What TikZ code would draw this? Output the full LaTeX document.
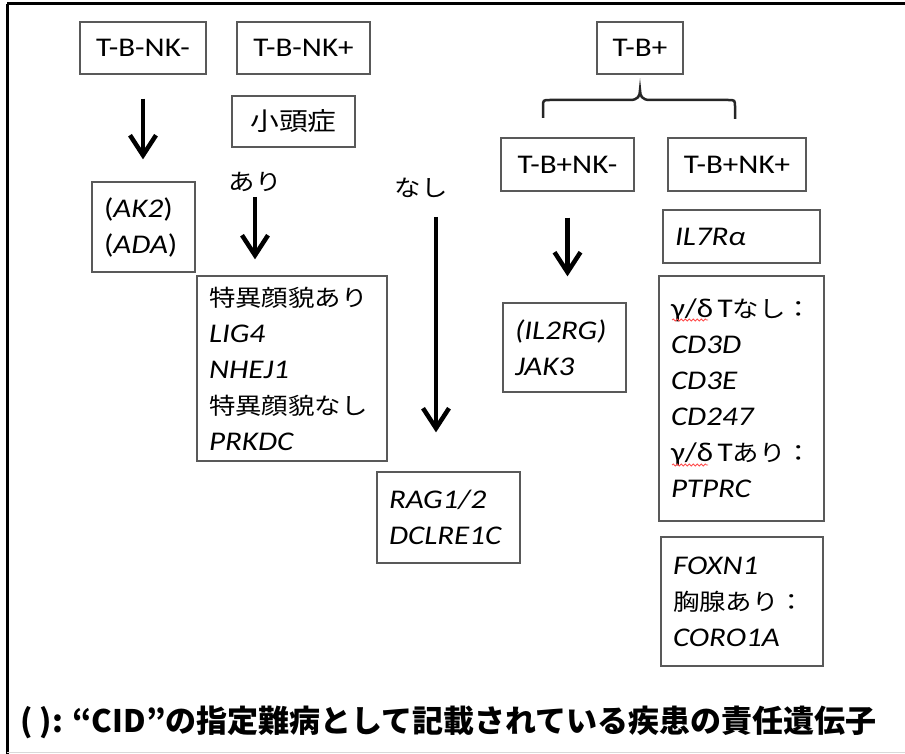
\documentclass[tikz,border=0pt]{standalone}
\usepackage{fontspec}
\setmainfont{Carlito}[FakeStretch=1.15]
\newfontfamily\jp{Noto Sans CJK JP}[FakeStretch=1.15]
\newfontfamily\jpfoot{Noto Sans CJK JP}
\usetikzlibrary{arrows.meta,decorations.pathmorphing}
\newcommand\J[1]{{\fontsize{23pt}{36pt}\selectfont\jp #1}}
\begin{document}
\begin{tikzpicture}[x=1pt,y=-1pt,
  box/.style={draw=black!65, line width=1.3pt, inner ysep=0pt, font=\fontsize{27pt}{36pt}\selectfont},
  lbox/.style={box, align=left, inner xsep=12pt},
  lab/.style={font=\fontsize{23pt}{28pt}\selectfont\jp, inner sep=1pt},
  arr/.style={line width=4.5pt, -{Straight Barb[length=20pt,width=26pt]}},
  brace/.style={line width=2.5pt, black!85},
  wavy/.style={red!70, line width=0.8pt, decorate, decoration={snake, amplitude=1pt, segment length=4pt}}
]
\useasboundingbox (0,0) rectangle (905,754);
% frame
\draw[line width=3pt] (7,4) -- (905,4);
\draw[line width=3pt] (7,4) -- (7,754);
\draw[black!15, line width=1.5pt] (7,752.5) -- (905,752.5);

% top row
\node[box, minimum width=126pt, minimum height=52pt] (tbnkm) at (143,48) {T-B-NK-};
\node[box, minimum width=133pt, minimum height=52pt] (tbnkp) at (303.5,48) {T-B-NK+};
\node[box, minimum width=86pt, minimum height=52pt] (tbp) at (640,48) {T-B+};

\node[box, minimum width=133pt, minimum height=53pt] (tbpnkm) at (567.5,164.5) {T-B+NK-};
\node[box, minimum width=138pt, minimum height=53pt] (tbpnkp) at (737,164.5) {T-B+NK+};

\node[box, minimum width=123pt, minimum height=51pt, font=\fontsize{25pt}{30pt}\selectfont\jp] (shoutou) at (293.5,121.5) {小頭症};

\node[lab] (ari) at (255,182) {あり};
\node[lab] (nashi) at (421,188) {なし};

% gene boxes
\node[lbox, text width=79pt, minimum height=90pt] (ak) at (143.5,227) {(\textit{AK2})\\(\textit{ADA})};
\node[lbox, text width=166pt, minimum height=185pt] (tokui) at (292,368.5)
  {\J{特異顔貌あり}\\\textit{LIG4}\\\textit{NHEJ1}\\\J{特異顔貌なし}\\\textit{PRKDC}};
\node[lbox, text width=119pt, minimum height=91pt] (rag) at (448.5,517.5) {\textit{RAG1/2}\\\textit{DCLRE1C}};
\node[lbox, text width=99pt, minimum height=89pt] (il2rg) at (564.5,347.5) {\textit{(IL2RG)}\\\textit{JAK3}};
\node[lbox, text width=133pt, minimum height=53pt] (il7r) at (741.5,236.5) {\textit{IL7Rα}};
\node[lbox, text width=141pt, minimum height=245pt] (gd) at (741.5,398.5)
  {\mbox{γ/δ\,T\J{なし：}}\\\textit{CD3D}\\\textit{CD3E}\\\textit{CD247}\\\mbox{γ/δ\,T\J{あり：}}\\\textit{PTPRC}};
\node[lbox, text width=138pt, minimum height=129pt] (foxn) at (742,601.5)
  {\textit{FOXN1}\\\J{胸腺あり：}\\\textit{CORO1A}};

% spell-check underlines
\draw[wavy] (672,320) -- (708,320);
\draw[wavy] (672,465) -- (708,465);

% arrows
\draw[arr, shorten <=24pt, shorten >=22pt] (tbnkm.south) -- (tbnkm.south |- ak.north);
\draw[arr, shorten <=4pt, shorten >=16pt] (ari.south) -- (ari.south |- tokui.north);
\coordinate (n1) at (436,217);
\draw[arr, shorten >=39pt] (n1) -- (n1 |- rag.north);
\draw[arr, shorten <=26pt, shorten >=26pt] (tbpnkm.south) -- (tbpnkm.south |- il2rg.north);

% brace
\draw[brace] (543,118) -- (543,107) .. controls (543,100) .. (550,100) -- (630,100)
  .. controls (638,100) and (640,96) .. (640,90)
  .. controls (640,96) and (642,100) .. (650,100) -- (728,100)
  .. controls (735,100) .. (735,107) -- (735,119);

% footnote
\node[anchor=west, inner sep=0pt, font=\fontsize{31pt}{36pt}\selectfont\jpfoot\bfseries] (note) at (20,722)
  {( ): “CID”の指定難病として記載されている疾患の責任遺伝子};
\end{tikzpicture}
\end{document}
